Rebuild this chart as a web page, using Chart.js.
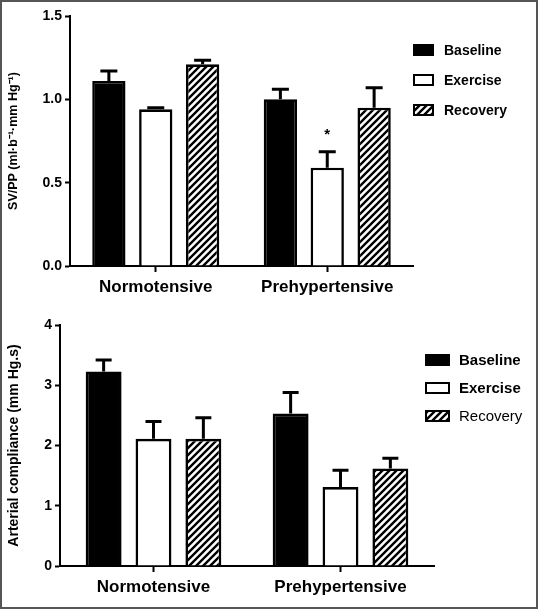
<!DOCTYPE html>
<html>
<head>
  <title>SV/PP and arterial compliance</title>
  <script src="https://cdn.jsdelivr.net/npm/chart.js"></script>
  <style>
    body { margin: 0; background: #fff; }
    .wrap { position: relative; width: 538px; height: 609px; overflow: hidden; }
    .panel { position: absolute; left: 0; }
    #frame { position: absolute; inset: 0; border: 2px solid #555; box-sizing: border-box; pointer-events: none; }
  </style>
</head>
<body>
  <div class="wrap">
    <div class="panel" style="top:0"><canvas id="svpp" width="538" height="300"></canvas></div>
    <div class="panel" style="top:300px"><canvas id="comp" width="538" height="309"></canvas></div>
    <div id="frame"></div>
  </div>
  <script>
    const groups = ['Normotensive', 'Prehypertensive'];
    const seriesNames = ['Baseline', 'Exercise', 'Recovery'];

    // SV/PP (top panel)
    const svppBaseline = [1.11, 1.00];
    const svppBaselineErr = [0.06, 0.06];
    const svppExercise = [0.94, 0.59];
    const svppExerciseErr = [0.01, 0.095];
    const svppRecovery = [1.21, 0.95];
    const svppRecoveryErr = [0.025, 0.12];
    const svppExerciseMarks = ['', '*'];
    const svppTicks = [0, 0.5, 1.0, 1.5];

    // arterial compliance (bottom panel)
    const compBaseline = [3.23, 2.53];
    const compBaselineErr = [0.19, 0.35];
    const compExercise = [2.11, 1.31];
    const compExerciseErr = [0.29, 0.28];
    const compRecovery = [2.11, 1.62];
    const compRecoveryErr = [0.35, 0.17];
    const compTicks = [0, 1, 2, 3, 4];

    Chart.defaults.font.family = "'Liberation Sans', Arial, sans-serif";
    Chart.defaults.color = '#000';

    function hatch() {
      const c = document.createElement('canvas');
      c.width = 7; c.height = 7;
      const g = c.getContext('2d');
      g.fillStyle = '#fff';
      g.fillRect(0, 0, 7, 7);
      g.strokeStyle = '#000';
      g.lineWidth = 2.4;
      g.beginPath();
      g.moveTo(-1, 8); g.lineTo(8, -1);
      g.moveTo(-1, 1); g.lineTo(1, -1);
      g.moveTo(6, 8); g.lineTo(8, 6);
      g.stroke();
      return g.createPattern(c, 'repeat');
    }
    const stripes = hatch();

    const errorBars = {
      id: 'errorBars',
      afterDatasetsDraw(chart, args, opts) {
        const ctx = chart.ctx;
        const y = chart.scales.y;
        ctx.save();
        ctx.strokeStyle = '#000';
        ctx.fillStyle = '#000';
        ctx.lineWidth = 3;
        chart.data.datasets.forEach((ds, i) => {
          chart.getDatasetMeta(i).data.forEach((bar, j) => {
            const top = y.getPixelForValue(ds.data[j] + ds.errors[j]);
            ctx.beginPath();
            ctx.moveTo(bar.x, bar.y);
            ctx.lineTo(bar.x, top);
            ctx.moveTo(bar.x - opts.cap / 2, top);
            ctx.lineTo(bar.x + opts.cap / 2, top);
            ctx.stroke();
            if (ds.marks && ds.marks[j]) {
              ctx.font = 'bold 15px ' + Chart.defaults.font.family;
              ctx.textAlign = 'center';
              ctx.textBaseline = 'alphabetic';
              ctx.fillText(ds.marks[j], bar.x, top - 13);
            }
          });
        });
        ctx.restore();
      }
    };

    const sideLegend = {
      id: 'sideLegend',
      afterDraw(chart, args, o) {
        const ctx = chart.ctx;
        ctx.save();
        chart.data.datasets.forEach((ds, i) => {
          const cy = o.y + i * o.step;
          ctx.fillStyle = ds.backgroundColor;
          ctx.fillRect(o.x, cy - o.boxH / 2, o.boxW, o.boxH);
          ctx.strokeStyle = '#000';
          ctx.lineWidth = 2;
          ctx.strokeRect(o.x + 1, cy - o.boxH / 2 + 1, o.boxW - 2, o.boxH - 2);
          ctx.fillStyle = '#000';
          ctx.font = o.weights[i] + ' ' + o.size + 'px ' + Chart.defaults.font.family;
          ctx.textAlign = 'left';
          ctx.textBaseline = 'middle';
          ctx.fillText(ds.label, o.x + o.boxW + o.gap, cy + 1);
        });
        ctx.restore();
      }
    };

    function makeChart(id, sets, cfg) {
      const fills = ['#000', '#fff', stripes];
      return new Chart(document.getElementById(id), {
        type: 'bar',
        data: {
          labels: groups,
          datasets: sets.map((s, i) => ({
            label: seriesNames[i],
            data: s.values,
            errors: s.errors,
            marks: s.marks,
            backgroundColor: fills[i],
            borderColor: '#000',
            borderWidth: 2.6,
            barPercentage: cfg.barPct,
            categoryPercentage: cfg.catPct
          }))
        },
        options: {
          responsive: false,
          animation: false,
          layout: { padding: cfg.padding },
          plugins: {
            legend: { display: false },
            tooltip: { enabled: false },
            errorBars: { cap: cfg.cap },
            sideLegend: cfg.legend
          },
          scales: {
            x: {
              grid: { offset: false, drawOnChartArea: false, tickLength: 6, tickWidth: 2, tickColor: '#000' },
              border: { color: '#000', width: 2 },
              ticks: { font: { size: 17, weight: 'bold' }, color: '#000', padding: 5 },
              afterFit: s => { s.height = cfg.xHeight; }
            },
            y: {
              min: cfg.ticks[0],
              max: cfg.ticks[cfg.ticks.length - 1],
              afterBuildTicks: s => { s.ticks = cfg.ticks.map(v => ({ value: v })); },
              grid: { drawOnChartArea: false, tickLength: 5, tickWidth: 2, tickColor: '#000' },
              border: { color: '#000', width: 2 },
              ticks: { font: { size: 14, weight: 'bold' }, color: '#000', padding: 3, callback: cfg.fmt },
              title: { display: true, text: cfg.title, font: { size: cfg.titleSize, weight: 'bold' }, color: '#000', padding: { top: 6, bottom: 0 } },
              afterFit: s => { s.width = cfg.yWidth; }
            }
          }
        },
        plugins: [errorBars, sideLegend]
      });
    }

    makeChart('svpp', [
      { values: svppBaseline, errors: svppBaselineErr },
      { values: svppExercise, errors: svppExerciseErr, marks: svppExerciseMarks },
      { values: svppRecovery, errors: svppRecoveryErr }
    ], {
      ticks: svppTicks,
      fmt: v => Number(v).toFixed(1),
      title: 'SV/PP (ml·b⁻¹·mm Hg⁻¹)',
      titleSize: 12.5,
      padding: { top: 16, right: 125, left: 0, bottom: 0 },
      yWidth: 70, xHeight: 34,
      barPct: 0.71, catPct: 0.82, cap: 17,
      legend: { x: 413, y: 50, step: 30, boxW: 21, boxH: 12, gap: 10, size: 14, weights: ['bold', 'bold', 'bold'] }
    });

    makeChart('comp', [
      { values: compBaseline, errors: compBaselineErr },
      { values: compExercise, errors: compExerciseErr },
      { values: compRecovery, errors: compRecoveryErr }
    ], {
      ticks: compTicks,
      fmt: v => String(v),
      title: 'Arterial compliance (mm Hg.s)',
      titleSize: 14,
      padding: { top: 25, right: 104, left: 0, bottom: 0 },
      yWidth: 60, xHeight: 43,
      barPct: 0.72, catPct: 0.80, cap: 16,
      legend: { x: 425, y: 60, step: 28, boxW: 25, boxH: 12, gap: 9, size: 15, weights: ['bold', 'bold', 'normal'] }
    });
  </script>
</body>
</html>
